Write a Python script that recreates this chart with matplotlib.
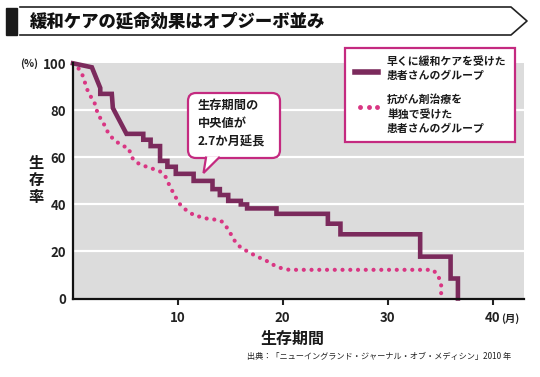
import matplotlib
matplotlib.use('Agg')
import matplotlib.pyplot as plt
from matplotlib.patches import Rectangle, FancyBboxPatch, Polygon

plt.rcParams['font.family'] = ['Noto Sans CJK JP', 'DejaVu Sans']

# 早期緩和ケア群（実線）: 折れ線の頂点 (月, %)
early_months = [0, 1.8, 2.6, 2.6, 3.7, 3.8, 5.1, 6.7, 6.7, 7.4, 7.4, 8.3, 8.3, 9.0, 9.0,
                9.8, 9.8, 11.5, 11.5, 13.3, 13.3, 14.0, 14.0, 14.8, 14.8, 16.0, 16.0,
                16.6, 16.6, 19.4, 19.4, 24.3, 24.3, 25.5, 25.5, 33.1, 33.1, 36.0, 36.0,
                36.7, 36.7]
early_surv = [100, 98.3, 89.5, 87, 87, 81, 70, 70, 67.5, 67.5, 64.8, 64.8, 58.5, 58.5, 56,
              56, 53, 53, 50, 50, 46.5, 46.5, 44, 44, 41.5, 41.5, 40, 40,
              38.3, 38.3, 36, 36, 31.8, 31.8, 27.3, 27.3, 17.8, 17.8, 8.5,
              8.5, 0]

# 抗がん剤治療単独群（点線）
chemo_months = [0, 0.5, 0.9, 1.2, 1.5, 2.0, 2.4, 2.8, 3.4, 3.9, 4.3, 4.8, 5.3, 5.6, 6.1,
                6.9, 7.7, 8.3, 8.8, 9.1, 9.4, 9.75, 10.1, 10.5, 11.0, 11.6, 12.3, 12.9,
                13.7, 14.2, 14.7, 15.0, 15.3, 15.8, 16.4, 17.0, 17.5, 18.2, 19.0, 19.8,
                20.6, 34.3, 34.8, 35.1, 35.1]
chemo_surv = [100, 98, 95, 91, 87, 84, 78, 75.5, 70, 67.5, 66.2, 64.8, 64, 60, 57.7,
              56.2, 55, 54, 52, 49, 46.3, 43.4, 40.6, 38.5, 37, 35.2, 34.6, 33.8,
              33.5, 32.7, 30, 27.8, 25.2, 22.4, 20.6, 19.2, 17.8, 16.7, 14.5, 13,
              12.2, 12.2, 10, 6, 1]

x_ticks = [10, 20, 30, 40]
y_ticks = [0, 20, 40, 60, 80, 100]

title = '緩和ケアの延命効果はオプジーボ並み'
legend_early = '早くに緩和ケアを受けた\n患者さんのグループ'
legend_chemo = '抗がん剤治療を\n単独で受けた\n患者さんのグループ'
callout = '生存期間の\n中央値が\n2.7か月延長'
source = '出典：「ニューイングランド・ジャーナル・オブ・メディシン」2010 年'

plum = '#7b2a5c'
pink = '#d93683'
magenta = '#c42a80'

W, H = 540, 377
fig = plt.figure(figsize=(W / 100, H / 100), dpi=100)

ax = fig.add_axes([73 / W, 1 - 298.5 / H, (524 - 73) / W, (298.5 - 63.3) / H])
ax.set_facecolor('#dcdcdc')
ax.set_xlim(0, 43)
ax.set_ylim(0, 100)
for y in y_ticks[1:-1]:
    ax.axhline(y, color='white', lw=1.6, zorder=1)

ax.plot(chemo_months, chemo_surv, color=pink, lw=3.0, dashes=(0.01, 1.85),
        dash_capstyle='round', zorder=3, clip_on=False)
ax.plot(early_months, early_surv, color=plum, lw=3.3, solid_joinstyle='miter',
        zorder=4, clip_on=False)

for s in ['top', 'right']:
    ax.spines[s].set_visible(False)
for s in ['left', 'bottom']:
    ax.spines[s].set_linewidth(1.6)
    ax.spines[s].set_color('#111111')
    ax.spines[s].set_zorder(5)

ax.set_xticks(x_ticks)
ax.set_xticklabels(['10', '20', '30', '40'])
ax.set_yticks(y_ticks)
ax.tick_params(axis='x', length=4, width=1.5, pad=5, labelsize=9.5, colors='#222222')
ax.tick_params(axis='y', length=0, pad=5, labelsize=9.5, colors='#222222')
for lab in ax.get_xticklabels() + ax.get_yticklabels():
    lab.set_fontweight('bold')

# 重ね描き用の座標系（ピクセル）
ov = fig.add_axes([0, 0, 1, 1], zorder=10)
ov.set_xlim(0, W)
ov.set_ylim(H, 0)
ov.axis('off')

# タイトル
ov.add_patch(Rectangle((6, 8), 11, 27, color='#1a1a1a'))
ov.plot([20, 511, 527, 511, 20], [7, 7, 21, 35, 35], color='#222222', lw=1.2)
ov.text(30, 21.5, title, fontsize=12.5, fontweight='black', va='center', ha='left',
        color='#111111')

# 軸ラベルなど
ov.text(38, 64, '(%)', fontsize=7.5, fontweight='bold', ha='right', va='center',
        color='#222222')
ov.text(501, 318.5, '(月)', fontsize=7.5, fontweight='bold', ha='left', va='center',
        color='#222222')
ov.text(36, 180, '生\n存\n率', fontsize=11, fontweight='bold', ha='center', va='center',
        linespacing=1.05, color='#1a1a1a')
ov.text(293, 339, '生存期間', fontsize=11.5, fontweight='bold', ha='center', va='center',
        color='#1a1a1a')
ov.text(511, 357, source, fontsize=5.9, ha='right', va='center', color='#222222')

# 凡例
ov.add_patch(Rectangle((345, 47.5), 170, 94, facecolor='white', edgecolor=magenta, lw=1.6))
ov.plot([355, 378], [71.5, 71.5], color=plum, lw=4)
ov.plot([360, 368.5, 377], [106.5, 106.5, 106.5], 'o', color=pink, ms=3.5, mec='none')
ov.text(387, 69, legend_early, fontsize=7.8, fontweight='bold', ha='left', va='center',
        linespacing=1.45, color='#1a1a1a')
ov.text(387, 114, legend_chemo, fontsize=7.8, fontweight='bold', ha='left', va='center',
        linespacing=1.45, color='#1a1a1a')

# 吹き出し
ov.add_patch(FancyBboxPatch((188, 93), 92, 65, boxstyle='round,pad=0,rounding_size=8',
                            facecolor='white', edgecolor=magenta, lw=1.6))
ov.add_patch(Polygon([(206, 157), (219, 157), (203.5, 173)], closed=True,
                     facecolor='white', edgecolor='none', zorder=3))
ov.plot([206, 203.5, 219], [157.6, 173, 157.6], color=magenta, lw=1.6, zorder=4,
        solid_joinstyle='miter')
ov.text(198, 124, callout, fontsize=8.8, fontweight='bold', ha='left', va='center',
        linespacing=1.55, color='#1a1a1a')

fig.savefig('out.png', dpi=100)
